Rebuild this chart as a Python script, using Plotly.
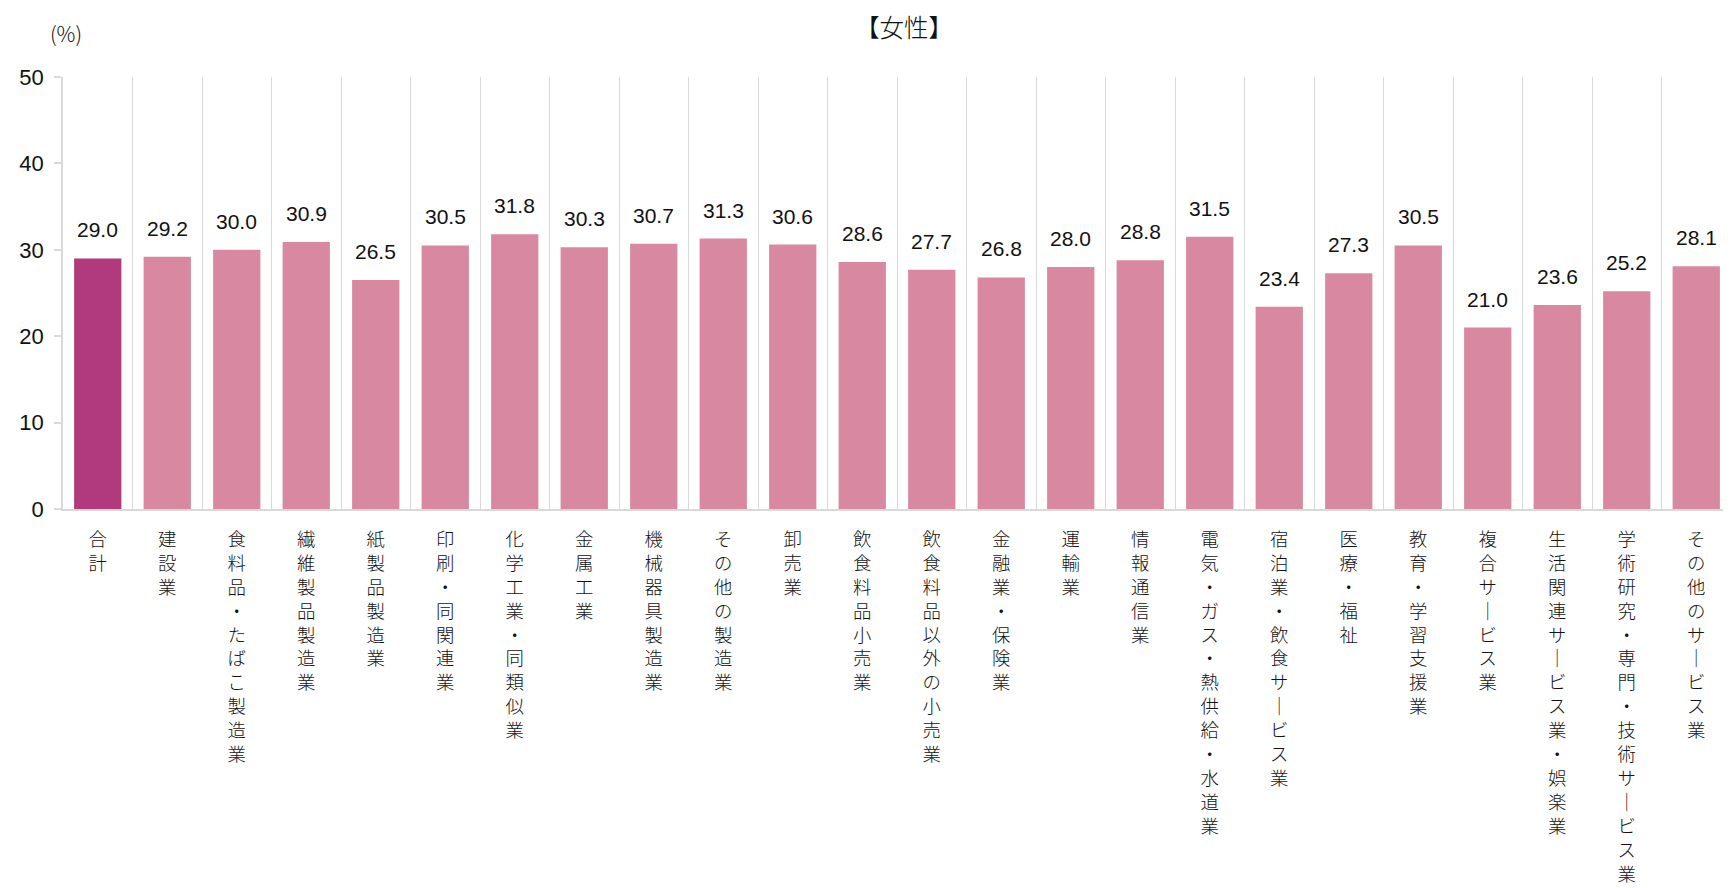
import plotly.graph_objects as go

categories = [
    "合計", "建設業", "食料品・たばこ製造業", "繊維製品製造業", "紙製品製造業",
    "印刷・同関連業", "化学工業・同類似業", "金属工業", "機械器具製造業", "その他の製造業",
    "卸売業", "飲食料品小売業", "飲食料品以外の小売業", "金融業・保険業", "運輸業",
    "情報通信業", "電気・ガス・熱供給・水道業", "宿泊業・飲食サービス業", "医療・福祉",
    "教育・学習支援業", "複合サービス業", "生活関連サービス業・娯楽業",
    "学術研究・専門・技術サービス業", "その他のサービス業",
]
values = [29.0, 29.2, 30.0, 30.9, 26.5, 30.5, 31.8, 30.3, 30.7, 31.3, 30.6, 28.6,
          27.7, 26.8, 28.0, 28.8, 31.5, 23.4, 27.3, 30.5, 21.0, 23.6, 25.2, 28.1]
y_ticks = [0, 10, 20, 30, 40, 50]

COLOR_TOTAL = "#B03A7B"
COLOR_OTHER = "#D888A1"
GRID = "#D9D9D9"
JP_FONT = "Noto Sans CJK JP"
NUM_FONT = "Liberation Sans, Arial, sans-serif"


def vertical(label):
    # one character per line to mimic vertical writing
    return "<br>".join("｜" if ch == "ー" else ch for ch in label)


tick_text = [vertical(c) for c in categories]
colors = [COLOR_TOTAL if i == 0 else COLOR_OTHER for i in range(len(categories))]

fig = go.Figure()
fig.add_trace(go.Bar(
    x=categories, y=values, marker=dict(color=colors, line=dict(width=0)),
    hoverinfo="x+y",
))

for c, v in zip(categories, values):
    fig.add_annotation(
        x=c, y=v, text=f"{v:.1f}", showarrow=False, yanchor="bottom",
        yshift=15, font=dict(family=NUM_FONT, size=21, color="#111"),
    )

fig.add_annotation(
    xref="paper", yref="paper", x=-0.009, y=1.102, xanchor="left", yanchor="middle",
    text="(%)", showarrow=False, font=dict(family=JP_FONT, size=21, color="#111", weight=300),
)

# the page body has an 8px default margin, so the figure is sized to fit the window
fig.update_layout(
    width=1723, height=880,
    margin=dict(l=55, r=0, t=69, b=379, autoexpand=False),
    paper_bgcolor="white", plot_bgcolor="white",
    bargap=0.32,
    showlegend=False,
    title=dict(text="【女性】", xref="container", x=0.52, xanchor="center",
               y=0.977, yanchor="middle",
               font=dict(family=JP_FONT, size=24.5, color="#111", weight=300)),
    xaxis=dict(
        type="category", tickson="boundaries", showgrid=True, gridcolor=GRID, gridwidth=1,
        showline=True, linecolor=GRID, linewidth=1.5, ticks="",
        tickmode="array", tickvals=categories, ticktext=tick_text, tickangle=0,
        tickfont=dict(family=JP_FONT, size=18.4, color="#111", weight=300),
        ticklabelstandoff=13,
        zeroline=False,
    ),
    yaxis=dict(
        range=[0, 50], tickvals=y_ticks, showgrid=False, zeroline=False,
        showline=True, linecolor=GRID, linewidth=1.5,
        ticks="outside", ticklen=7, tickcolor=GRID, tickwidth=1.5,
        tickfont=dict(family=NUM_FONT, size=22, color="#111"), ticklabelstandoff=6,
    ),
)

fig.write_html("out.html")
